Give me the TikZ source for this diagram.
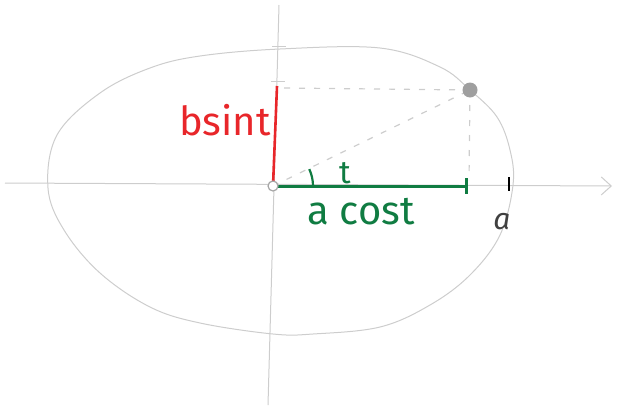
\documentclass[tikz,border=0pt]{standalone}
\usepackage{fontspec}
\setmainfont{Fira Sans}
\usetikzlibrary{positioning,arrows.meta}
\definecolor{penred}{RGB}{232,38,42}
\definecolor{pengreen}{RGB}{16,124,66}
\definecolor{pencil}{RGB}{205,205,205}
\tikzset{
  pencilline/.style={draw=pencil,line width=1pt},
  guide/.style={draw=pencil,line width=1.2pt,dash pattern=on 6pt off 9pt},
  hand/.style={inner sep=0pt,font=\fontsize{40}{44}\selectfont},
}
\begin{document}
\begin{tikzpicture}[x=1pt,y=-1pt]
\useasboundingbox (0,0) rectangle (617,410);
% named points of the sketch (pixel grid, y downwards)
\coordinate (O) at (273,186);
\coordinate (P) at (470,90);
\coordinate (Pb) at (277,86);
\coordinate (Pa) at (468,186);
\coordinate (Pfoot) at (469,180);
\coordinate (Ptop) at (284,88);
% axes
\draw[pencilline] (279,5) -- (268,405);
\draw[pencilline,-{Straight Barb[length=10pt,width=18pt]}] (5,183) -- (612,186);
\draw[pencilline] (272,46)--(286,46);
\draw[pencilline] (271,81)--(285,81);
\draw[black,line width=1.4pt] (509,177)--(509,191);
% hand-drawn ellipse
\draw[pencilline] plot[smooth cycle,tension=0.6] coordinates {(48,188) (57,135) (100,93) (150,68) (200,56) (280,49) (380,48) (440,67) (470,90) (497,117) (510,150) (513,185) (500,235) (470,275) (430,305) (380,327) (313,334) (273,334) (200,323) (150,307) (100,273) (64,230)};
% guide lines to the point
\draw[guide] (O) -- (P);
\draw[guide] (P) -- (Pfoot);
\draw[guide] (Ptop) -- (P);
% components
\draw[penred,line width=2.6pt] (O) -- (Pb);
\draw[pengreen,line width=3pt,-{Bar[width=16pt,line width=3pt]}] (O) -- (Pa);
\draw[pengreen,line width=2.2pt] ([shift={(0:40)}]O) arc[start angle=0,end angle=-25,radius=40];
\filldraw[fill=white,draw=gray!70,line width=1.2pt] (O) circle[radius=5];
\fill[gray!75] (P) circle[radius=7.5];
% labels
\node[hand,text=penred,left=6pt of Pb,anchor=north east,yshift=-18pt] (lbsint) {bsint};
\node[hand,text=pengreen,font=\fontsize{32}{36}\selectfont,anchor=base] (lt) at (345,183) {t};
\node[hand,text=pengreen,anchor=base] (lacost) at (361,224) {a cost};
\node[hand,text=black!75,font=\fontsize{30}{34}\selectfont\itshape,anchor=base] (la) at (502,229) {a};
\end{tikzpicture}
\end{document}
